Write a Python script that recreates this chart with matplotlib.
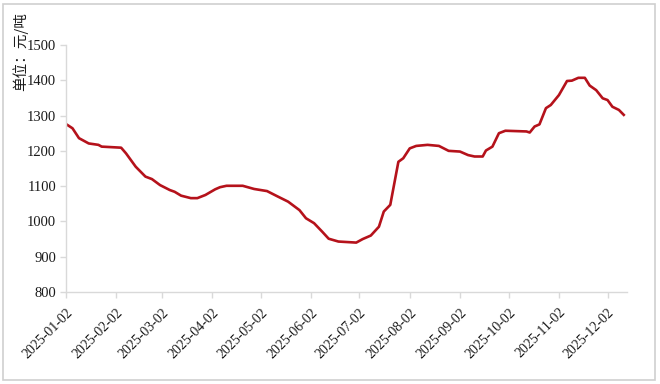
import matplotlib
matplotlib.use("Agg")
import matplotlib.pyplot as plt
import matplotlib.dates as mdates
import numpy as np
import pandas as pd
from matplotlib.patches import Rectangle

# price series (yuan / ton)
dates = [
    "2025-01-02", "2025-01-06", "2025-01-10", "2025-01-14", "2025-01-16",
    "2025-01-22", "2025-01-24", "2025-02-05", "2025-02-08", "2025-02-14",
    "2025-02-20", "2025-02-24", "2025-03-01", "2025-03-07", "2025-03-10",
    "2025-03-14", "2025-03-20", "2025-03-24", "2025-03-29", "2025-04-04",
    "2025-04-07", "2025-04-11", "2025-04-21", "2025-04-28", "2025-05-06",
    "2025-05-12", "2025-05-19", "2025-05-26", "2025-05-30", "2025-06-04",
    "2025-06-09", "2025-06-13", "2025-06-19", "2025-06-30", "2025-07-04",
    "2025-07-09", "2025-07-14", "2025-07-17", "2025-07-21", "2025-07-26",
    "2025-07-29", "2025-08-02", "2025-08-06", "2025-08-13", "2025-08-20",
    "2025-08-26", "2025-09-02", "2025-09-07", "2025-09-11", "2025-09-16",
    "2025-09-18", "2025-09-22", "2025-09-26", "2025-09-30", "2025-10-13",
    "2025-10-15", "2025-10-18", "2025-10-21", "2025-10-25", "2025-10-28",
    "2025-11-02", "2025-11-07", "2025-11-10", "2025-11-14", "2025-11-18",
    "2025-11-21", "2025-11-25", "2025-11-29", "2025-12-02", "2025-12-05",
    "2025-12-09", "2025-12-12",
]
prices = [
    1276, 1264, 1236, 1226, 1221,
    1217, 1212, 1209, 1193, 1155,
    1127, 1120, 1103, 1089, 1084,
    1073, 1066, 1066, 1075, 1091,
    1097, 1101, 1101, 1092, 1086,
    1072, 1056, 1032, 1009, 995,
    971, 951, 943, 940, 950,
    960, 985, 1028, 1047, 1169,
    1179, 1207, 1214, 1217, 1214,
    1200, 1198, 1188, 1184, 1184,
    1201, 1212, 1250, 1257, 1255,
    1252, 1269, 1275, 1321, 1330,
    1358, 1398, 1399, 1407, 1407,
    1385, 1372, 1349, 1344, 1325,
    1316, 1302,
]
tick_dates = ["2025-%02d-02" % m for m in range(1, 13)]
y_ticks = [800, 900, 1000, 1100, 1200, 1300, 1400, 1500]

x = pd.to_datetime(dates)
xt = pd.to_datetime(tick_dates)

serif = ["Liberation Serif", "DejaVu Serif"]
grid_col = "#d9d9d9"

fig = plt.figure(figsize=(6.6, 3.84), dpi=100)
ax = fig.add_axes([0.1, 0.2396, 0.85, 0.6432])

ax.plot(x, prices, color="#b5121b", linewidth=1.9, solid_joinstyle="round")

ax.set_ylim(800, 1500)
ax.set_yticks(y_ticks)
ax.set_xlim(x[0], pd.Timestamp("2025-12-14"))
ax.set_xticks(xt)
ax.xaxis.set_major_formatter(mdates.DateFormatter("%Y-%m-%d"))

for side in ("top", "right"):
    ax.spines[side].set_visible(False)
for side in ("left", "bottom"):
    ax.spines[side].set_color(grid_col)
    ax.spines[side].set_linewidth(1.0)

ax.tick_params(axis="both", direction="out", length=4, width=1.0,
               color=grid_col, labelcolor="#1a1a1a")
ax.tick_params(axis="y", pad=3, labelsize=10.5)
ax.tick_params(axis="x", pad=6, labelsize=10)
for lbl in ax.get_yticklabels():
    lbl.set_family(serif)
for lbl in ax.get_xticklabels():
    lbl.set_family(serif)
    lbl.set_rotation(45)
    lbl.set_ha("right")
    lbl.set_va("top")
    lbl.set_rotation_mode("anchor")

fig.text(20 / 660, 1 - 52 / 384, "单位：元/吨", rotation=90,
         ha="center", va="center", fontsize=10.5,
         family=["Noto Sans CJK SC", "DejaVu Sans"], color="#1a1a1a")

# thin grey frame around the whole picture
fig.patches.append(Rectangle((3 / 660, 4 / 384), 652 / 660, 376 / 384,
                             transform=fig.transFigure, fill=False,
                             edgecolor="#cfcfcf", linewidth=1.2))

fig.savefig("out.png", dpi=100)
plt.close(fig)
